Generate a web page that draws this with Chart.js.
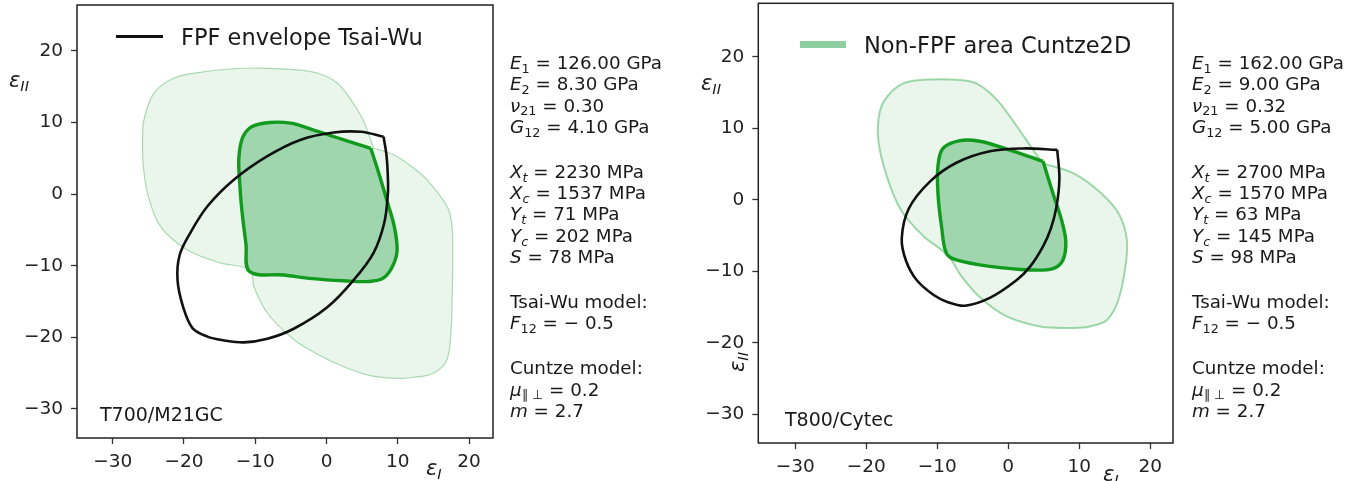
<!DOCTYPE html>
<html>
<head>
<meta charset="utf-8">
<script src="https://cdn.jsdelivr.net/npm/chart.js@4.4.1/dist/chart.umd.min.js"></script>
<style>
    body { margin: 0; background: #fff; width: 1364px; height: 481px; overflow: hidden; position: relative;
           font-family: 'DejaVu Sans', sans-serif; color: #1a1a1a; }
    canvas { position: absolute; top: 0; }
    .txt { position: absolute; white-space: nowrap; }
    .params { font-size: 18.3px; line-height: 21.3px; }
    .params .grp { margin-top: 23.7px; }
    .params .grp:first-child { margin-top: 0; }
    sub { font-size: 70%; vertical-align: baseline; position: relative; top: 0.3em; line-height: 0; }
    .lbl { font-size: 21px; font-style: italic; }
    .legend { font-size: 22.5px; }
    .legend .line { display: inline-block; width: 47px; height: 2.5px; background: #111; vertical-align: middle; margin-right: 18px; position: relative; top: -2px; }
    .legend .patch { display: inline-block; width: 46px; height: 7px; background: #8fd0a2; vertical-align: middle; margin-right: 18px; position: relative; top: -2px; }
    .mat { font-size: 19px; }
</style>
</head>
<body>
<canvas id="left" width="682" height="481" style="left:0"></canvas>
<canvas id="right" width="682" height="481" style="left:682px"></canvas>

<div class="txt legend" style="left:116px;top:24px"><span class="line"></span>FPF envelope Tsai-Wu</div>
<div class="txt legend" style="left:800px;top:32px"><span class="patch"></span>Non-FPF area Cuntze2D</div>

<div class="txt mat" style="left:100px;top:403px">T700/M21GC</div>
<div class="txt mat" style="left:785px;top:408px">T800/Cytec</div>

<div class="txt lbl" style="left:9px;top:68px">ε<sub>II</sub></div>
<div class="txt lbl" style="left:701px;top:71px">ε<sub>II</sub></div>
<div class="txt lbl" style="left:727px;top:350px;transform:rotate(-90deg)">ε<sub>II</sub></div>
<div class="txt lbl" style="left:426px;top:456px">ε<sub>I</sub></div>
<div class="txt lbl" style="left:1103px;top:462px">ε<sub>I</sub></div>

<div class="txt params" style="left:510px;top:52px">
    <div class="grp">
        <div><i>E</i><sub>1</sub> = 126.00 GPa</div>
        <div><i>E</i><sub>2</sub> = 8.30 GPa</div>
        <div><i>ν</i><sub>21</sub> = 0.30</div>
        <div><i>G</i><sub>12</sub> = 4.10 GPa</div>
    </div>
    <div class="grp">
        <div><i>X<sub>t</sub></i> = 2230 MPa</div>
        <div><i>X<sub>c</sub></i> = 1537 MPa</div>
        <div><i>Y<sub>t</sub></i> = 71 MPa</div>
        <div><i>Y<sub>c</sub></i> = 202 MPa</div>
        <div><i>S</i> = 78 MPa</div>
    </div>
    <div class="grp">
        <div>Tsai-Wu model:</div>
        <div><i>F</i><sub>12</sub> = − 0.5</div>
    </div>
    <div class="grp">
        <div>Cuntze model:</div>
        <div><i>μ</i><sub>∥ ⊥</sub> = 0.2</div>
        <div><i>m</i> = 2.7</div>
    </div>
</div>

<div class="txt params" style="left:1192px;top:52px">
    <div class="grp">
        <div><i>E</i><sub>1</sub> = 162.00 GPa</div>
        <div><i>E</i><sub>2</sub> = 9.00 GPa</div>
        <div><i>ν</i><sub>21</sub> = 0.32</div>
        <div><i>G</i><sub>12</sub> = 5.00 GPa</div>
    </div>
    <div class="grp">
        <div><i>X<sub>t</sub></i> = 2700 MPa</div>
        <div><i>X<sub>c</sub></i> = 1570 MPa</div>
        <div><i>Y<sub>t</sub></i> = 63 MPa</div>
        <div><i>Y<sub>c</sub></i> = 145 MPa</div>
        <div><i>S</i> = 98 MPa</div>
    </div>
    <div class="grp">
        <div>Tsai-Wu model:</div>
        <div><i>F</i><sub>12</sub> = − 0.5</div>
    </div>
    <div class="grp">
        <div>Cuntze model:</div>
        <div><i>μ</i><sub>∥ ⊥</sub> = 0.2</div>
        <div><i>m</i> = 2.7</div>
    </div>
</div>

<script>
// tick positions shared by both panels
const xTicks = [-30, -20, -10, 0, 10, 20];
const yTicks = [-30, -20, -10, 0, 10, 20];

// T700/M21GC  [eps_I, eps_II]
const leftTsaiWu = [
    [8.0, 8.0], [8.4, 5.5], [8.6, 2.5], [8.6, 0.0], [8.1, -4.0], [6.6, -8.2], [3.8, -12.0], [0.1, -15.8],
    [-4.6, -18.8], [-8.3, -20.2], [-11.6, -20.7], [-14.5, -20.4], [-16.7, -19.9], [-18.8, -18.7],
    [-20.1, -15.8], [-20.9, -12.0], [-20.6, -8.5], [-19.1, -5.4], [-16.7, -1.7], [-13.0, 2.0],
    [-8.3, 5.3], [-3.6, 7.6], [1.0, 8.6], [4.8, 8.7], [8.0, 8.0]
];
const leftCuntze = [
    [6.2, 6.4], [7.3, 3.0], [8.5, -1.0], [9.5, -4.5], [9.9, -7.8], [9.3, -10.0], [8.0, -11.7], [6.0, -12.2],
    [2.4, -12.1], [-2.0, -11.8], [-6.0, -11.3], [-10.8, -10.8], [-11.3, -7.0], [-11.9, -2.0], [-12.2, 2.0],
    [-12.3, 5.0], [-11.8, 7.8], [-10.5, 9.4], [-8.0, 10.0], [-5.0, 9.9], [-2.0, 9.0], [2.0, 7.7], [6.2, 6.4]
];
const leftNonFpf = [
    [6.6, 6.4], [9.4, 5.5], [12.0, 3.8], [14.1, 2.0], [16.9, -1.7], [17.6, -4.5], [17.7, -10.0], [17.6, -15.0],
    [17.5, -18.5], [16.9, -23.1], [15.0, -25.0], [12.0, -25.6], [9.4, -25.7], [6.0, -25.3], [2.4, -24.1],
    [-1.0, -22.5], [-4.6, -20.3], [-8.3, -16.6], [-10.2, -12.9], [-10.7, -10.6], [-14.9, -9.6], [-19.5, -7.8],
    [-23.3, -4.5], [-25.1, 0.1], [-25.7, 4.0], [-25.8, 7.1], [-25.6, 10.4], [-24.2, 14.1], [-21.4, 16.2],
    [-17.7, 17.0], [-13.0, 17.5], [-9.3, 17.6], [-5.0, 17.4], [-1.3, 16.9], [1.5, 15.5], [3.4, 13.2],
    [4.8, 11.0], [5.7, 9.0], [6.6, 6.4]
];

// T800/Cytec
const rightTsaiWu = [
    [6.9, 7.0], [7.2, 3.0], [6.8, -0.9], [6.0, -4.0], [4.9, -6.5], [3.1, -9.3], [1.2, -11.2], [-2.6, -13.7],
    [-6.1, -14.8], [-8.5, -14.3], [-10.5, -13.3], [-12.9, -11.2], [-14.4, -8.5], [-15.0, -5.4], [-14.0, -1.2],
    [-11.0, 2.6], [-7.3, 5.2], [-2.6, 6.8], [2.1, 7.2], [6.9, 7.0]
];
const rightCuntze = [
    [4.9, 5.4], [6.3, 0.9], [7.5, -2.8], [8.1, -5.8], [7.7, -8.4], [6.3, -9.6], [3.1, -9.8], [-2.6, -9.3],
    [-7.3, -8.4], [-8.7, -7.5], [-9.4, -3.7], [-9.9, 0.9], [-9.9, 4.7], [-9.2, 7.2], [-6.8, 8.3], [-4.0, 8.2],
    [-0.2, 7.1], [4.9, 5.4]
];
const rightNonFpf = [
    [4.9, 5.1], [9.2, 3.7], [13.0, 1.0], [15.6, -2.0], [16.7, -5.6], [16.5, -9.3], [15.5, -14.0], [13.9, -16.8],
    [11.5, -17.7], [9.2, -17.9], [4.5, -17.7], [-0.2, -16.3], [-3.8, -13.8], [-6.5, -10.8], [-8.5, -7.8],
    [-12.0, -5.0], [-15.0, -1.6], [-17.1, 3.3], [-18.3, 8.4], [-18.1, 12.3], [-17.0, 14.5], [-14.8, 16.3],
    [-12.0, 16.8], [-7.3, 16.8], [-4.5, 16.3], [-1.6, 14.0], [1.2, 10.3], [3.5, 7.0], [4.9, 5.1]
];

const fontFamily = "'DejaVu Sans', sans-serif";

const toPoints = arr => arr.map(p => ({ x: p[0], y: p[1] }));
const minusLabel = v => (v < 0 ? '\u2212' + Math.abs(v) : String(v));

const framePlugin = {
    id: 'frame',
    afterDraw(chart) {
        const a = chart.chartArea;
        const ctx = chart.ctx;
        ctx.save();
        ctx.strokeStyle = '#222';
        ctx.lineWidth = 1.5;
        ctx.strokeRect(a.left, a.top, a.right - a.left, a.bottom - a.top);
        ctx.restore();
    }
};

function axis(min, max, ticks, size, pad) {
    return {
        type: 'linear',
        min: min,
        max: max,
        afterBuildTicks: s => { s.ticks = ticks.map(v => ({ value: v })); },
        afterFit: s => {
            // keep the plot box where the layout padding puts it
            if (s.isHorizontal()) {
                s.height = size;
                s.paddingLeft = 0;
                s.paddingRight = 0;
            } else {
                s.width = size;
                s.paddingTop = 0;
                s.paddingBottom = 0;
            }
        },
        grid: { display: true, drawOnChartArea: false, drawTicks: true, tickLength: 6, tickWidth: 1.3, tickColor: '#333' },
        border: { display: false },
        ticks: {
            color: '#222',
            padding: pad,
            font: { family: fontFamily, size: 18.5 },
            callback: minusLabel
        }
    };
}

function makePanel(id, tsaiWu, cuntze, nonFpf, cfg) {
    return new Chart(document.getElementById(id), {
        type: 'scatter',
        data: {
            datasets: [
                {
                    label: 'Tsai-Wu',
                    data: toPoints(tsaiWu),
                    showLine: true,
                    tension: 0.35,
                    borderColor: '#111',
                    borderWidth: 2.6,
                    pointRadius: 0,
                    fill: false
                },
                {
                    label: 'Cuntze FPF',
                    data: toPoints(cuntze),
                    showLine: true,
                    tension: 0.35,
                    borderColor: '#119a1d',
                    borderWidth: 3.4,
                    backgroundColor: '#9fd6ad',
                    pointRadius: 0,
                    fill: 'shape'
                },
                {
                    label: 'Non-FPF area Cuntze2D',
                    data: toPoints(nonFpf),
                    showLine: true,
                    tension: 0.35,
                    borderColor: cfg.outerBorder,
                    borderWidth: cfg.outerWidth,
                    backgroundColor: 'rgba(150, 212, 160, 0.2)',
                    pointRadius: 0,
                    fill: 'shape'
                }
            ]
        },
        options: {
            responsive: false,
            animation: false,
            devicePixelRatio: 1,
            layout: { padding: cfg.padding },
            scales: {
                x: axis(cfg.xMin, cfg.xMax, xTicks, cfg.xAxisHeight, 7),
                y: axis(cfg.yMin, cfg.yMax, yTicks, cfg.yAxisWidth, 8)
            },
            plugins: {
                legend: { display: false },
                tooltip: { enabled: false }
            }
        },
        plugins: [framePlugin]
    });
}

makePanel('left', leftTsaiWu, leftCuntze, leftNonFpf, {
    padding: { top: 5, right: 189, bottom: 0, left: 0 },
    xMin: -35.0, xMax: 23.35, yMin: -34.05, yMax: 26.4,
    xAxisHeight: 43, yAxisWidth: 77,
    outerBorder: 'rgba(110, 190, 120, 0.55)', outerWidth: 1.2
});

makePanel('right', rightTsaiWu, rightCuntze, rightNonFpf, {
    padding: { top: 3.3, right: 191, bottom: 0, left: 0 },
    xMin: -35.2, xMax: 23.2, yMin: -34.0, yMax: 27.5,
    xAxisHeight: 38, yAxisWidth: 76.3,
    outerBorder: 'rgba(120, 200, 135, 0.7)', outerWidth: 2
});
</script>
</body>
</html>
